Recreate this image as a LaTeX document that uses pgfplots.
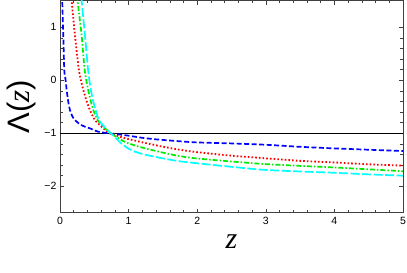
\documentclass[border=0pt]{standalone}
\usepackage{fontspec}
\setmainfont{Liberation Sans}
\newfontfamily\serif{Liberation Serif}
\usepackage{pgfplots}
\pgfplotsset{compat=1.18}
\definecolor{cB}{rgb}{0,0,1}
\definecolor{cR}{rgb}{1,0,0}
\definecolor{cG}{rgb}{0,0.92,0}
\definecolor{cC}{rgb}{0,1,1}
\begin{document}
\begin{tikzpicture}
\useasboundingbox (-60pt,-60.2pt) rectangle (347pt,212.8pt);
\begin{axis}[
  at={(0,0)}, anchor=south west,
  scale only axis, width=343pt, height=212pt,
  xmin=0, xmax=5, ymin=-2.5, ymax=1.5,
  xtick={0,1,2,3,4,5}, ytick={-2,-1,0,1},
  yticklabels={−2,−1,0,1},
  /pgf/number format/assume math mode=true,
  minor tick num=4,
  tick align=inside, tick pos=both,
  major tick length=4pt, minor tick length=2.5pt,
  axis line style={black!75, line width=0.6pt},
  every tick/.style={black!75, line width=0.5pt},
  tick label style={font=\fontsize{10.5}{12}\selectfont, black},
  xticklabel style={yshift=-1pt},
  clip=true,
]
\addplot[black, line width=1.3pt] coordinates {(0,-1) (5,-1)};
% blue dashed
\addplot[cB, line width=1.7pt, dash pattern=on 5pt off 2.5pt, smooth, tension=0.4] coordinates {
(0.030,1.9) (0.033,1.5) (0.048,0.85) (0.0625,0.19) (0.080,0.02) (0.097,-0.18) (0.12,-0.40) (0.145,-0.56) (0.18,-0.68) (0.218,-0.75) (0.29,-0.83) (0.363,-0.875) (0.436,-0.906) (0.557,-0.97) (0.72,-1.0) (0.85,-1.02) (0.945,-1.035) (1.2,-1.085) (1.45,-1.12) (1.96,-1.17) (2.48,-1.19) (2.98,-1.215) (3.5,-1.255) (4.0,-1.285) (4.5,-1.31) (5,-1.335)};
% red dotted
\addplot[cR, line width=1.8pt, dash pattern=on 1.6pt off 2.1pt, smooth, tension=0.4] coordinates {
(0.16,1.75) (0.17,1.5) (0.218,0.85) (0.276,0.19) (0.339,-0.18) (0.39,-0.40) (0.436,-0.56) (0.509,-0.75) (0.606,-0.875) (0.693,-0.97) (0.73,-1.0) (0.8,-1.03) (0.9,-1.075) (1.0,-1.11) (1.2,-1.17) (1.45,-1.24) (1.7,-1.30) (1.96,-1.35) (2.48,-1.42) (2.98,-1.47) (3.5,-1.52) (4.0,-1.55) (4.5,-1.585) (5,-1.61)};
% green dash-dot
\addplot[cG, line width=1.7pt, dash pattern=on 5pt off 2pt on 1.5pt off 2pt, smooth, tension=0.4] coordinates {
(0.245,1.8) (0.257,1.5) (0.315,0.85) (0.36,0.19) (0.41,-0.18) (0.45,-0.40) (0.485,-0.56) (0.549,-0.75) (0.63,-0.875) (0.74,-1.0) (0.8,-1.05) (0.9,-1.13) (1.0,-1.19) (1.2,-1.27) (1.45,-1.35) (1.7,-1.42) (1.96,-1.47) (2.48,-1.53) (2.98,-1.58) (3.5,-1.615) (4.0,-1.645) (4.5,-1.68) (5,-1.715)};
% cyan long dashed
\addplot[cC, line width=1.7pt, dash pattern=on 9pt off 2.5pt, smooth, tension=0.4] coordinates {
(0.305,1.8) (0.316,1.5) (0.364,0.85) (0.41,0.19) (0.45,-0.18) (0.485,-0.40) (0.519,-0.56) (0.567,-0.75) (0.645,-0.875) (0.74,-1.0) (0.8,-1.07) (0.9,-1.20) (1.0,-1.29) (1.1,-1.35) (1.2,-1.39) (1.3,-1.42) (1.45,-1.46) (1.7,-1.52) (1.96,-1.56) (2.48,-1.63) (2.98,-1.69) (3.5,-1.72) (4.0,-1.745) (4.5,-1.775) (5,-1.80)};
\end{axis}
\node[anchor=center, font=\fontsize{30}{34}\selectfont] at (171.5pt,-29pt) {\serif\itshape z};
\node[anchor=center, rotate=90, font=\fontsize{31}{34}\selectfont] at (-39pt,106pt) {Λ(\serif\itshape z\/\normalfont)};
\end{tikzpicture}
\end{document}
